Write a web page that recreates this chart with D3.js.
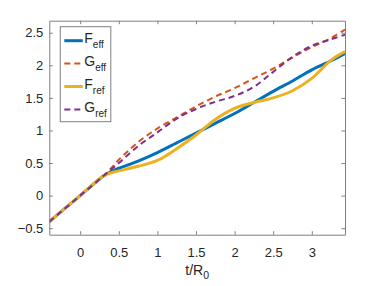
<!DOCTYPE html>
<html>
<head>
<meta charset="utf-8">
<script src="https://cdn.jsdelivr.net/npm/d3@7"></script>
<style>
  body { margin: 0; background: #fff; }
  text { font-family: "Liberation Sans", Arial, sans-serif; fill: #262626; }
</style>
</head>
<body>
<div id="chart"></div>
<script>
// Data
const t = [-0.4, 0, 0.3, 0.4, 0.5, 0.75, 1, 1.25, 1.5, 1.75, 2, 2.25, 2.5, 2.75, 3, 3.25, 3.43];
const Feff = [-0.4, 0, 0.3, 0.37, 0.42, 0.53, 0.66, 0.81, 0.96, 1.11, 1.26, 1.43, 1.60, 1.76, 1.93, 2.07, 2.18];
const Geff = [-0.4, 0, 0.3, 0.42, 0.55, 0.82, 1.03, 1.2, 1.37, 1.52, 1.65, 1.8, 1.95, 2.12, 2.28, 2.42, 2.55];
const Fref = [-0.4, 0, 0.3, 0.35, 0.38, 0.45, 0.54, 0.72, 0.93, 1.17, 1.34, 1.43, 1.50, 1.61, 1.80, 2.08, 2.21];
const Gref = [-0.4, 0, 0.3, 0.4, 0.5, 0.76, 0.97, 1.18, 1.33, 1.44, 1.53, 1.67, 1.9, 2.13, 2.30, 2.40, 2.47];
const xTicks = [0, 0.5, 1, 1.5, 2, 2.5, 3];
const yTicks = [-0.5, 0, 0.5, 1, 1.5, 2, 2.5];

const series = [
    { name: 'F', sub: 'eff', values: Feff, color: '#0072BD', dash: null, width: 3 },
    { name: 'G', sub: 'eff', values: Geff, color: '#D95319', dash: '6,4', width: 2 },
    { name: 'F', sub: 'ref', values: Fref, color: '#EDB120', dash: null, width: 3 },
    { name: 'G', sub: 'ref', values: Gref, color: '#7E2F8E', dash: '6,4', width: 2 }
];

const W = 382, H = 286;
const margin = { top: 20.7, right: 37, bottom: 51.3, left: 49.3 };
const width = W - margin.left - margin.right;
const height = H - margin.top - margin.bottom;

const svg = d3.select('#chart').append('svg')
    .attr('width', W)
    .attr('height', H);

const g = svg.append('g')
    .attr('transform', `translate(${margin.left},${margin.top})`);

const x = d3.scaleLinear().domain([-0.4, 3.43]).range([0, width]);
const y = d3.scaleLinear().domain([-0.6, 2.685]).range([height, 0]);

// clip lines to the axes box
g.append('clipPath').attr('id', 'clip')
    .append('rect').attr('width', width).attr('height', height);

const line = d3.line()
    .x((d, i) => x(t[i]))
    .y(d => y(d))
    .curve(d3.curveCatmullRom.alpha(0.5));

g.append('g').attr('clip-path', 'url(#clip)')
    .selectAll('path')
    .data(series)
    .enter()
    .append('path')
    .attr('d', d => line(d.values))
    .attr('fill', 'none')
    .attr('stroke', d => d.color)
    .attr('stroke-width', d => d.width)
    .attr('stroke-dasharray', d => d.dash);

// axes (ticks inside, box on)
const axisColor = '#808080';
const tickLen = 3.5;

const xAxis = g.append('g')
    .attr('transform', `translate(0,${height})`)
    .call(d3.axisBottom(x).tickValues(xTicks).tickSizeInner(-tickLen).tickSizeOuter(0).tickPadding(13).tickFormat(d3.format('')));
const yAxis = g.append('g')
    .call(d3.axisLeft(y).tickValues(yTicks).tickSizeInner(-tickLen).tickSizeOuter(0).tickPadding(6).tickFormat(d3.format('')));
const xTop = g.append('g')
    .call(d3.axisTop(x).tickValues(xTicks).tickSizeInner(-tickLen).tickSizeOuter(0).tickFormat(''));
const yRight = g.append('g')
    .attr('transform', `translate(${width},0)`)
    .call(d3.axisRight(y).tickValues(yTicks).tickSizeInner(-tickLen).tickSizeOuter(0).tickFormat(''));

[xAxis, yAxis, xTop, yRight].forEach(a => {
    a.selectAll('path, line').attr('stroke', axisColor);
    a.selectAll('text').style('font-size', '13px').attr('fill', '#262626');
});

// x-axis label
const xl = g.append('text')
    .attr('x', width / 2)
    .attr('y', height + 40)
    .attr('text-anchor', 'middle')
    .style('font-size', '14px')
    .text('t/R');
xl.append('tspan').attr('dy', 4).style('font-size', '10.5px').text('0');

// legend
const lg = g.append('g').attr('transform', 'translate(11,6)');
lg.append('rect')
    .attr('width', 50.5)
    .attr('height', 95)
    .attr('fill', '#fff')
    .attr('stroke', axisColor);

const item = lg.selectAll('.item')
    .data(series)
    .enter()
    .append('g')
    .attr('transform', (d, i) => `translate(0,${14 + i * 22.9})`);

item.append('line')
    .attr('x1', 4).attr('x2', 22.5)
    .attr('stroke', d => d.color)
    .attr('stroke-width', d => d.width)
    .attr('stroke-dasharray', d => d.dash);

const lt = item.append('text')
    .attr('x', 24)
    .attr('y', 2.5)
    .style('font-size', '14px')
    .text(d => d.name);
lt.append('tspan')
    .attr('dy', 5)
    .style('font-size', '10px')
    .text(d => d.sub);
</script>
</body>
</html>
